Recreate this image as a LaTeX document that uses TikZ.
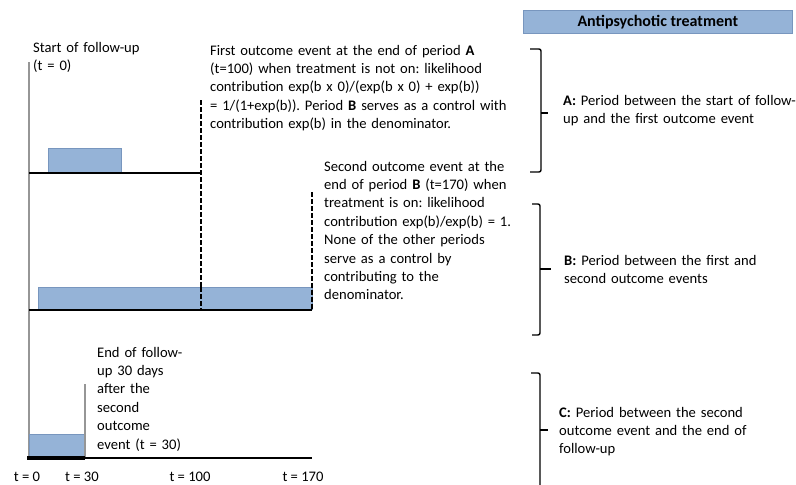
\documentclass[tikz,border=0pt]{standalone}
\usepackage{fontspec}
\setmainfont{Carlito}
\definecolor{tblue}{RGB}{149,179,215}
\definecolor{tblueedge}{RGB}{120,150,190}
\definecolor{axisgrey}{RGB}{150,150,150}
\begin{document}
\frenchspacing
\begin{tikzpicture}[x=1pt,y=-1pt,
  txt/.style={font=\fontsize{14.6}{18.4}\selectfont\frenchspacing, inner sep=0pt, anchor=base west, align=left, text width=#1},
  tlab/.style={font=\fontsize{14.6}{18}\selectfont, inner sep=0pt, anchor=base},
  bar/.style={fill=tblue, draw=tblueedge, line width=0.6pt},
  baseln/.style={line width=2.2pt, black},
  evt/.style={line width=2.6pt, black, dash pattern=on 5pt off 2pt},
  brace/.style={line width=1.4pt, black, rounded corners=2pt},
  axisln/.style={line width=2pt, axisgrey}]
\useasboundingbox (0,0) rectangle (796,485);
% legend
\node[bar, minimum width=269pt, minimum height=23pt, anchor=north west, inner sep=0pt,
      font=\fontsize{16}{18}\selectfont\bfseries] (legend) at (523,10) {Antipsychotic treatment};
% time axis
\coordinate (ax0) at (29,62);
\coordinate (ax1) at (29,458);
\draw[axisln] (ax0) -- (ax1);
% panel A
\draw[bar] (48,148) rectangle (121,173);
\coordinate (a0) at (29,173); \coordinate (a1) at (201,173);
\draw[baseln] (a0) -- (a1);
\coordinate (ea0) at (201,100); \coordinate (ea1) at (201,310);
\draw[evt] (ea0) -- (ea1);
% panel B
\draw[bar] (38,287) rectangle (312,309);
\coordinate (b0) at (29,310); \coordinate (b1) at (312,310);
\draw[baseln] (b0) -- (b1);
\coordinate (eb0) at (312,192); \coordinate (eb1) at (312,310);
\draw[evt] (eb0) -- (eb1);
\draw[evt] (201,287) -- (201,310);
% panel C
\draw[bar] (29,434) rectangle (85,457);
\coordinate (c0) at (85,384); \coordinate (c1) at (85,457);
\draw[axisln] (c0) -- (c1);
\coordinate (d0) at (27,458); \coordinate (d1) at (312,458); \coordinate (d2) at (85,458);
\draw[line width=2.5pt] (d0) -- (d1);
\draw[line width=3.5pt] (d0) -- (d2);
% texts
\node[txt=200pt] (start) at (33,52) {Start of follow-up\\(t = 0)};
\node[txt=340pt] (first) at (210,55) {First outcome event at the end of period \textbf{A}\\
(t=100) when treatment is not on: likelihood\\
contribution exp(b x 0)/(exp(b x 0) + exp(b))\\
= 1/(1+exp(b)). Period \textbf{B} serves as a control with\\
contribution exp(b) in the denominator.};
\node[txt=240pt] (second) at (324,171) {Second outcome event at the\\
end of period \textbf{B} (t=170) when\\
treatment is on: likelihood\\
contribution exp(b)/exp(b) = 1.\\
None of the other periods\\
serve as a control by\\
contributing to the\\
denominator.};
\node[txt=150pt] (endfu) at (97,357) {End of follow-\\up 30 days\\after the\\second\\outcome\\event (t = 30)};
\node[tlab] (t0) at (27,481) {t = 0};
\node[tlab] (t30) at (82,481) {t = 30};
\node[tlab] (t100) at (190,481) {t = 100};
\node[tlab] (t170) at (303,481) {t = 170};
% brackets and labels
\node[txt=300pt] (la) at (563,105) {\textbf{A:} Period between the start of follow-\\up and the first outcome event};
\node[txt=300pt] (lb) at (564,265) {\textbf{B:} Period between the first and\\second outcome events};
\node[txt=300pt] (lc) at (559,417) {\textbf{C:} Period between the second\\outcome event and the end of\\follow-up};
\draw[brace] (530,49) -- (541,49) -- (541,172) -- (530,172);
\draw[brace] (541,113) -- (548,113);
\draw[brace] (532,204) -- (540,204) -- (540,335) -- (532,335);
\draw[brace] (540,269) -- (551,269);
\draw[brace] (531,373) -- (540,373) -- (540,490);
\draw[brace] (540,430) -- (548,430);
\end{tikzpicture}
\end{document}
